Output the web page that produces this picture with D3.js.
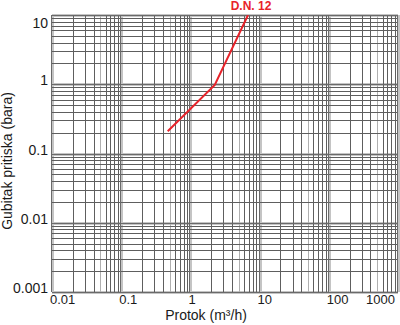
<!DOCTYPE html>
<html>
<head>
<meta charset="utf-8">
<script src="https://cdn.jsdelivr.net/npm/d3@7"></script>
<style>
  html, body { margin: 0; padding: 0; background: #fff; }
  svg { display: block; font-family: "Liberation Sans", Arial, sans-serif; }
</style>
</head>
<body>
<script>
// ---- data ----
const xTicks = [0.01, 0.1, 1, 10, 100, 1000];
const xTickLabels = ["0.01", "0.1", "1", "10", "100", "1000"];
const yTicks = [0.001, 0.01, 0.1, 1, 10];
const yTickLabels = ["0.001", "0.01", "0.1", "1", "10"];
const flow = [0.47, 2.25, 6.8];          // Protok (m³/h)
const pressureDrop = [0.21, 0.98, 10];   // Gubitak pritiska (bara)
const seriesName = "D.N. 12";
const xTitle = "Protok (m³/h)";
const yTitle = "Gubitak pritiska (bara)";

const W = 400, H = 325;
const svg = d3.select("body").append("svg").attr("width", W).attr("height", H);

const x = d3.scaleLog().domain([0.01, 1000]).range([52, 398]);
const y = d3.scaleLog().domain([0.001, 10]).range([292, 15]);

// grid values
const xMinor = [], yMinor = [];
xTicks.slice(0, -1).forEach(d => { for (let k = 2; k <= 9; k++) xMinor.push({v: d * k, k}); });
yTicks.slice(0, -1).forEach(d => { for (let k = 2; k <= 9; k++) yMinor.push({v: d * k, k}); });

const grid = svg.append("g");
// decade bands (light)
grid.selectAll("line.xd").data(xTicks).join("line")
  .attr("x1", d => Math.round(x(d)) + 0.5).attr("x2", d => Math.round(x(d)) + 0.5)
  .attr("y1", y(10)).attr("y2", y(0.001))
  .attr("stroke", "#c4c4c4").attr("stroke-width", 3);
grid.selectAll("line.yd").data(yTicks).join("line")
  .attr("y1", d => Math.round(y(d)) + 0.5).attr("y2", d => Math.round(y(d)) + 0.5)
  .attr("x1", x(0.01)).attr("x2", x(1000))
  .attr("stroke", "#c4c4c4").attr("stroke-width", 3);
// minor lines
grid.selectAll("line.xm").data(xMinor).join("line")
  .attr("x1", d => Math.round(x(d.v)) + 0.5).attr("x2", d => Math.round(x(d.v)) + 0.5)
  .attr("y1", y(10)).attr("y2", y(0.001))
  .attr("stroke", d => d.k === 5 ? "#b0b0b0" : "#5e5e5e")
  .attr("stroke-width", 1);
grid.selectAll("line.ym").data(yMinor).join("line")
  .attr("y1", d => Math.round(y(d.v)) + 0.5).attr("y2", d => Math.round(y(d.v)) + 0.5)
  .attr("x1", x(0.01)).attr("x2", x(1000))
  .attr("stroke", "#5e5e5e").attr("stroke-width", 1);
// decade lines (dark core)
grid.selectAll("line.xdc").data(xTicks).join("line")
  .attr("x1", d => Math.round(x(d)) - 0.5).attr("x2", d => Math.round(x(d)) - 0.5)
  .attr("y1", y(10)).attr("y2", y(0.001))
  .attr("stroke", "#6a6a6a").attr("stroke-width", 1);
grid.selectAll("line.ydc").data(yTicks).join("line")
  .attr("y1", d => Math.round(y(d)) + 0.5).attr("y2", d => Math.round(y(d)) + 0.5)
  .attr("x1", x(0.01)).attr("x2", x(1000))
  .attr("stroke", "#6a6a6a").attr("stroke-width", 1);

// x tick labels
svg.append("g").selectAll("text").data(xTicks).join("text")
  .attr("x", (d, i) => i === xTicks.length - 1 ? x(d) - 3 : x(d) - 2)
  .attr("y", 304)
  .attr("text-anchor", (d, i) => i === xTicks.length - 1 ? "end" : "start")
  .attr("font-size", 13).attr("fill", "#1a1a1a")
  .text((d, i) => xTickLabels[i]);

// y tick labels
svg.append("g").selectAll("text").data(yTicks).join("text")
  .attr("x", 48)
  .attr("y", (d, i) => i === yTicks.length - 1 ? y(d) + 13 : y(d) + 1)
  .attr("text-anchor", "end")
  .attr("font-size", 14).attr("fill", "#1a1a1a")
  .text((d, i) => yTickLabels[i]);

// titles
svg.append("text").attr("x", 206).attr("y", 320).attr("text-anchor", "middle")
  .attr("font-size", 14).attr("fill", "#1a1a1a").text(xTitle);
svg.append("text").attr("transform", "translate(12,161) rotate(-90)")
  .attr("text-anchor", "middle").attr("font-size", 14).attr("fill", "#1a1a1a").text(yTitle);

// series
svg.append("clipPath").attr("id", "clip").append("rect")
  .attr("x", x(0.01)).attr("y", y(10)).attr("width", x(1000) - x(0.01)).attr("height", y(0.001) - y(10));
const pts = flow.map((f, i) => [f, pressureDrop[i]]);
svg.append("path").datum(pts)
  .attr("clip-path", "url(#clip)")
  .attr("d", d3.line().x(d => x(d[0])).y(d => y(d[1])))
  .attr("fill", "none").attr("stroke", "#e8232a").attr("stroke-width", 2);

const last = pts[pts.length - 1];
svg.append("text").attr("x", x(last[0]) + 3).attr("y", 10).attr("text-anchor", "middle")
  .attr("font-size", 12).attr("font-weight", "bold").attr("fill", "#e8232a").text(seriesName);
</script>
</body>
</html>
